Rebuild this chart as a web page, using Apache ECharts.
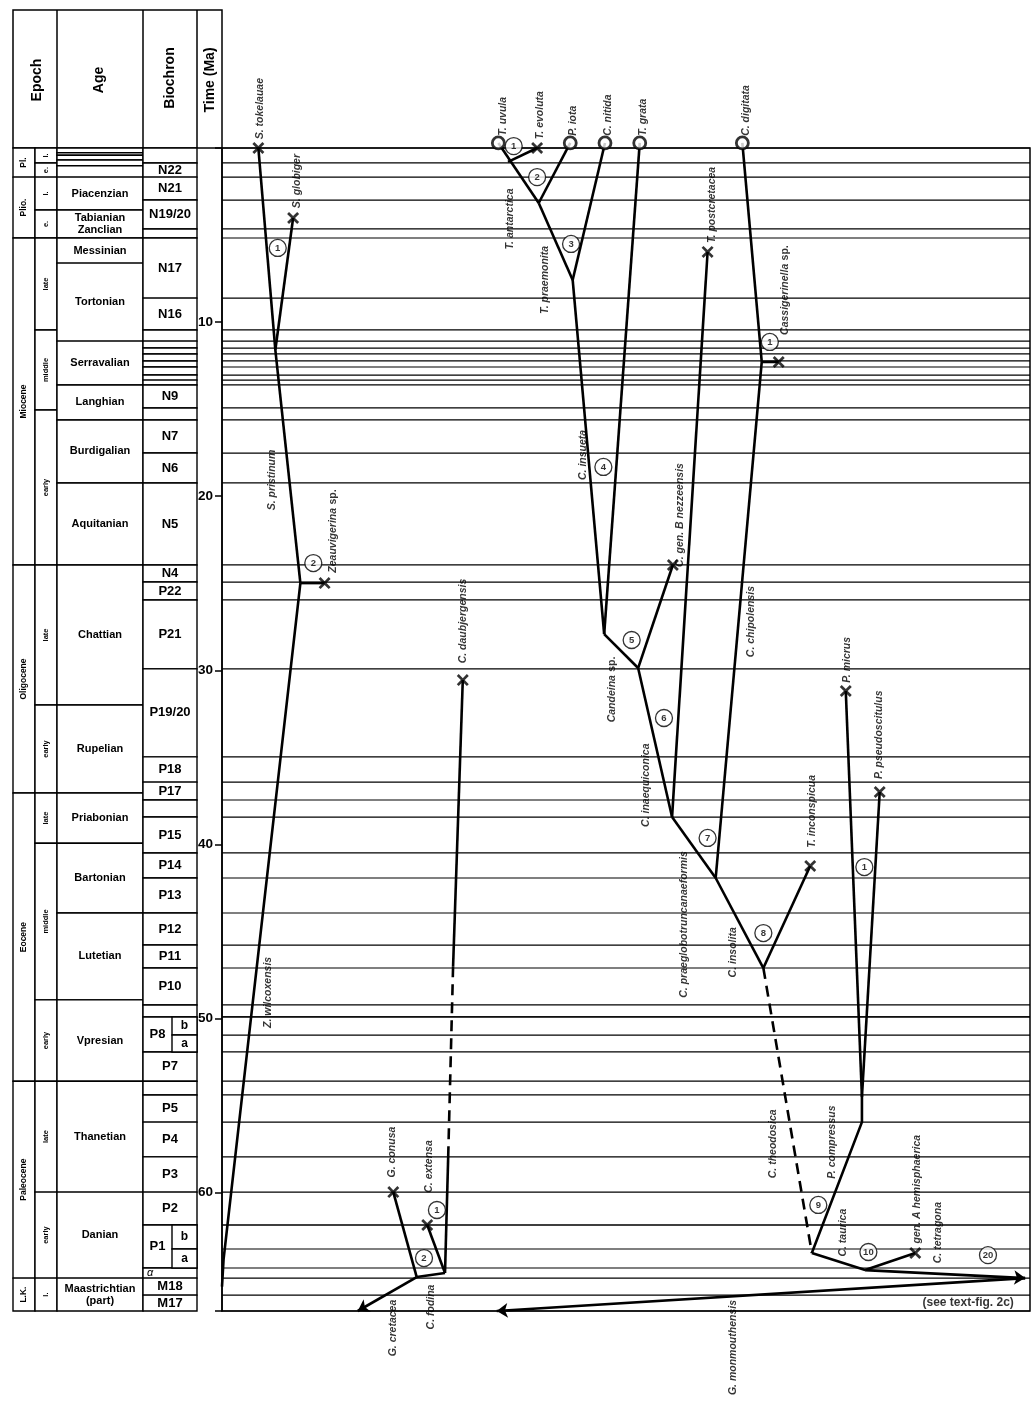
<!DOCTYPE html>
<html><head><meta charset="utf-8">
<script src="https://cdn.jsdelivr.net/npm/echarts@6/dist/echarts.min.js"></script>
<style>html,body{margin:0;padding:0;background:#fff}#c{width:1032px;height:1405px}</style>
</head><body><div id="c"></div>
<script>
// ================= DATA (time in Ma; lineage position in arbitrary units 0-100) =================
const epochs = [[0,1.67,'Pl.'],[1.67,5.17,'Plio.'],[5.17,23.95,'Miocene'],[23.95,37.05,'Oligocene'],[37.05,53.6,'Eocene'],[53.6,64.91,'Paleocene'],[64.91,66.8,'L.K.']];
const subEpochs = [[0,0.86,'l.'],[0.86,1.67,'e.'],[1.67,3.56,'l.'],[3.56,5.17,'e.'],[5.17,10.45,'late'],[10.45,15.05,'middle'],[15.05,23.95,'early'],[23.95,31.99,'late'],[31.99,37.05,'early'],[37.05,39.93,'late'],[39.93,48.93,'middle'],[48.93,53.6,'early'],[53.6,59.97,'late'],[59.97,64.91,'early'],[64.91,66.8,'l.']];
const ages = [[0,0.27,''],[0.27,0.42,''],[0.42,0.69,''],[0.69,1.02,''],[1.02,1.67,''],[1.67,3.56,'Piacenzian'],[3.56,5.17,'Tabianian\nZanclian'],[5.17,6.61,'Messinian'],[6.61,11.09,'Tortonian'],[11.09,13.61,'Serravalian'],[13.61,15.62,'Langhian'],[15.62,19.24,'Burdigalian'],[19.24,23.95,'Aquitanian'],[23.95,31.99,'Chattian'],[31.99,37.05,'Rupelian'],[37.05,39.93,'Priabonian'],[39.93,43.94,'Bartonian'],[43.94,48.93,'Lutetian'],[48.93,53.6,'Vpresian'],[53.6,59.97,'Thanetian'],[59.97,64.91,'Danian'],[64.91,66.8,'Maastrichtian\n(part)']];
const biochrons = [[0,0.86,''],[0.86,1.67,'N22'],[1.67,2.99,'N21'],[2.99,4.65,'N19/20'],[4.65,5.17,''],[5.17,8.62,'N17'],[8.62,10.45,'N16'],[10.45,11.09,''],[11.09,11.49,''],[11.49,11.83,''],[11.83,12.23,''],[12.23,12.58,''],[12.58,13.04,''],[13.04,13.33,''],[13.33,13.61,''],[13.61,14.93,'N9'],[14.93,15.62,''],[15.62,17.52,'N7'],[17.52,19.24,'N6'],[19.24,23.95,'N5'],[23.95,24.93,'N4'],[24.93,25.96,'P22'],[25.96,29.92,'P21'],[29.92,34.97,'P19/20'],[34.97,36.42,'P18'],[36.42,37.45,'P17'],[37.45,38.43,''],[38.43,40.49,'P15'],[40.49,41.93,'P14'],[41.93,43.94,'P13'],[43.94,45.78,'P12'],[45.78,47.10,'P11'],[47.10,49.22,'P10'],[49.22,49.91,''],[49.91,51.92,'P8'],[51.92,53.6,'P7'],[53.6,54.39,''],[54.39,55.95,'P5'],[55.95,57.95,'P4'],[57.95,59.97,'P3'],[59.97,61.86,'P2'],[61.86,64.33,'P1'],[64.33,64.91,'α'],[64.91,65.89,'M18'],[65.89,66.8,'M17']];
const biochronSubzones = [[49.91,50.95,'b'],[50.95,51.92,'a'],[61.86,63.24,'b'],[63.24,64.33,'a']];
const timeTicks = [10,20,30,40,50,60];

// lineages: [position, Ma] vertices
const solidBranches = [
  [[4.5,0],[6.6,11.6]],            // S. tokelauae
  [[8.8,4.02],[6.6,11.6]],         // S. globiger
  [[6.6,11.6],[9.7,24.99]],        // S. pristinum
  [[9.7,24.99],[12.7,24.99]],      // Zeauvigerina sp.
  [[9.7,24.99],[0.2,63.8],[0,65.4]], // Z. wilcoxensis
  [[29.8,30.56],[28.6,47.0]],      // C. daubjergensis
  [[28.0,57.84],[27.6,64.62]],
  [[25.4,61.86],[27.6,64.62]],     // C. extensa
  [[21.2,59.97],[24.1,64.85]],     // G. conusa
  [[24.1,64.85],[27.6,64.62]],     // C. fodina
  [[34.2,-0.29],[39.2,3.16]],      // T. uvula
  [[39.0,0],[35.4,0.80]],          // T. evoluta
  [[43.1,-0.29],[39.2,3.16]],      // P. iota
  [[39.2,3.16],[43.4,7.58]],       // T. praemonita
  [[47.4,-0.29],[43.4,7.58]],      // C. nitida
  [[43.4,7.58],[47.3,27.92]],      // C. insueta
  [[51.7,-0.29],[47.3,27.92]],     // T. grata
  [[47.3,27.92],[51.5,29.87]],     // Candeina sp.
  [[55.8,23.95],[51.5,29.87]],     // gen. B nezzeensis
  [[51.5,29.87],[55.7,38.43]],     // C. inaequiconica
  [[60.1,5.97],[55.7,38.43]],      // T. postcretacea
  [[55.7,38.43],[61.1,41.93]],     // C. praeglobotruncanaeformis
  [[64.4,-0.29],[66.8,12.29]],     // C. digitata
  [[66.8,12.29],[68.9,12.29]],     // Cassigerinella sp.
  [[66.8,12.29],[61.1,41.93]],     // C. chipolensis
  [[61.1,41.93],[67.0,47.1]],      // C. insolita
  [[72.8,41.24],[67.0,47.1]],      // T. inconspicua
  [[77.2,31.19],[79.2,54.51]],     // P. micrus
  [[81.4,36.99],[79.2,54.51]],     // P. pseudoscitulus
  [[79.2,54.51],[79.2,55.95],[73.0,63.47]], // P. compressus
  [[73.0,63.47],[79.6,64.45]],     // C. taurica
  [[79.6,64.45],[85.8,63.47]]      // gen. A hemisphaerica
];
const dashedBranches = [
  [[28.6,47.0],[28.0,57.84]],      // C. daubjergensis (inferred)
  [[67.0,47.1],[73.0,63.47]]       // C. theodosica (inferred)
];
const arrowBranches = [
  [[24.1,64.85],[16.8,66.8]],      // G. cretacea
  [[79.6,64.45],[99.4,64.91]],     // C. tetragona
  [[99.4,64.91],[34.0,66.8]]       // G. monmouthensis
];
const extinctions = [[4.5,0],[8.8,4.02],[12.7,24.99],[29.8,30.56],[21.2,59.97],[25.4,61.86],[39.0,0],[55.8,23.95],[60.1,5.97],[68.9,12.29],[72.8,41.24],[77.2,31.19],[81.4,36.99],[85.8,63.47]];
const extant = [[34.2,-0.29],[43.1,-0.29],[47.4,-0.29],[51.7,-0.29],[64.4,-0.29]];
const nodeNumbers = [[6.9,5.74,'1'],[11.3,23.84,'2'],[26.6,61.0,'1'],[25.0,63.76,'2'],[36.1,-0.11,'1'],[39.0,1.67,'2'],[43.2,5.51,'3'],[47.2,18.32,'4'],[50.7,28.26,'5'],[54.7,32.74,'6'],[60.1,39.63,'7'],[67.0,45.09,'8'],[73.8,60.71,'9'],[80.0,63.41,'10'],[94.8,63.59,'20'],[67.8,11.14,'1'],[79.5,41.3,'1']];
const topLabels = [[4.7,-0.5,'S. tokelauae'],[34.8,-0.7,'T. uvula'],[39.4,-0.5,'T. evoluta'],[43.4,-0.7,'P. iota'],[47.8,-0.7,'C. nitida'],[52.1,-0.7,'T. grata'],[64.9,-0.7,'C. digitata']];
const taxonLabels = [[9.3,1.9,'S. globiger'],[6.2,19.07,'S. pristinum'],[13.7,22.0,'Zeauvigerina sp.'],[5.7,48.5,'Z. wilcoxensis'],[29.8,27.17,'C. daubjergensis'],[21.0,57.67,'G. conusa'],[25.6,58.5,'C. extensa'],[21.2,67.78,'G. cretacea'],[25.9,66.57,'C. fodina'],[35.6,4.08,'T. antarctica'],[40.0,7.58,'T. praemonita'],[60.6,3.27,'T. postcretacea'],[69.7,8.16,'Cassigerinella sp.'],[44.7,17.63,'C. insueta'],[56.7,21.08,'C. gen. B nezzeensis'],[48.3,31.1,'Candeina sp.'],[65.5,27.2,'C. chipolensis'],[52.5,36.6,'C. inaequiconica'],[77.4,29.4,'P. micrus'],[81.3,33.7,'P. pseudoscitulus'],[73.0,38.1,'T. inconspicua'],[57.2,44.6,'C. praeglobotruncanaeformis'],[63.2,46.2,'C. insolita'],[68.2,57.2,'C. theodosica'],[75.5,57.1,'P. compressus'],[76.9,62.3,'C. taurica'],[86.0,59.8,'gen. A hemisphaerica'],[88.6,62.3,'C. tetragona'],[63.2,68.9,'G. monmouthensis']];
const noteLabels = [[98.0,66.3,'(see text-fig. 2c)']];

// ================= LAYOUT =================
const FONT = '"Liberation Sans", Arial, sans-serif';
const TOP = 148, BOTTOM = 1405 - 1311, TMAX = 66.8;
const COL = {epoch:[0,22], sub:[22,44], age:[44,130], bio:[130,184], bioSub:[159,184]};

const tableCells = [];
epochs.forEach(e => tableCells.push({x0:COL.epoch[0], x1:COL.epoch[1], t0:e[0], t1:e[1], label:e[2], kind:'epoch'}));
subEpochs.forEach(e => tableCells.push({x0:COL.sub[0], x1:COL.sub[1], t0:e[0], t1:e[1], label:e[2], kind:'sub'}));
ages.forEach(e => tableCells.push({x0:COL.age[0], x1:COL.age[1], t0:e[0], t1:e[1], label:e[2], kind:'age'}));
biochrons.forEach(e => {
  const hasSub = biochronSubzones.some(s => s[0] >= e[0] - 1e-6 && s[1] <= e[1] + 1e-6);
  tableCells.push({x0:COL.bio[0], x1:COL.bio[1], t0:e[0], t1:e[1], label:e[2], kind: e[2]==='α' ? 'alpha' : 'bio', lx: hasSub ? (COL.bio[0]+COL.bioSub[0])/2 : null});
});
biochronSubzones.forEach(e => tableCells.push({x0:COL.bioSub[0], x1:COL.bioSub[1], t0:e[0], t1:e[1], label:e[2], kind:'bsub'}));

const boundaryTimes = [];
biochrons.forEach(b => boundaryTimes.push(b[0]));
biochronSubzones.forEach(s => boundaryTimes.push(s[0]));
boundaryTimes.push(TMAX);

const fonts = {
  epoch: 'bold 8.5px ' + FONT, sub: 'bold 7.5px ' + FONT, age: 'bold 11px ' + FONT,
  bio: 'bold 13px ' + FONT, bsub: 'bold 12px ' + FONT, alpha: 'italic 11px ' + FONT
};

function tableRender(params, api) {
  const c = tableCells[params.dataIndex];
  const p0 = api.coord([c.x0, c.t0]), p1 = api.coord([c.x1, c.t1]);
  const children = [{type:'rect', shape:{x:p0[0], y:p0[1], width:p1[0]-p0[0], height:p1[1]-p0[1]},
    style:{fill:'#fff', stroke:'#000', lineWidth:1.4}}];
  if (c.label) {
    const rot = (c.kind === 'epoch' || c.kind === 'sub');
    let cx = (p0[0] + p1[0]) / 2, align = 'center';
    if (c.lx != null) cx = api.coord([c.lx, c.t0])[0];
    if (c.kind === 'alpha') { cx = p0[0] + 4; align = 'left'; }
    children.push({type:'text', x:cx, y:(p0[1]+p1[1])/2, rotation: rot ? Math.PI/2 : 0,
      style:{text:c.label, font:fonts[c.kind], fill:'#000', align:align, verticalAlign:'middle', lineHeight:12}});
  }
  return {type:'group', children};
}

function boundaryRender(params, api) {
  const t = boundaryTimes[params.dataIndex];
  const p0 = api.coord([0, t]), p1 = api.coord([100, t]);
  return {type:'line', shape:{x1:p0[0], y1:p0[1], x2:p1[0], y2:p1[1]}, style:{stroke:'#000', lineWidth:1.2}};
}

function italicRich(txt) {
  if (/ sp\.$/.test(txt)) return '{i|' + txt.replace(/ sp\.$/, '') + '} {r|sp.}';
  return '{i|' + txt + '}';
}
const rich = {
  i: {fontStyle:'italic', fontWeight:'bold', fontSize:10.5, fontFamily:FONT, color:'#000'},
  r: {fontStyle:'normal', fontWeight:'bold', fontSize:10.5, fontFamily:FONT, color:'#000'}
};
const crossPath = 'path://M0,1.6L1.6,0L5,3.4L8.4,0L10,1.6L6.6,5L10,8.4L8.4,10L5,6.6L1.6,10L0,8.4L3.4,5Z';

const yBase = {type:'value', min:0, max:TMAX, inverse:true};
const option = {
  animation:false,
  backgroundColor:'#fff',
  grid:[
    {left:13, top:TOP, width:209, bottom:BOTTOM},
    {left:222, top:TOP, width:808, bottom:BOTTOM, show:true, borderColor:'#000', borderWidth:1.5}
  ],
  xAxis:[
    {type:'value', gridIndex:0, min:0, max:209, show:false},
    {type:'value', gridIndex:1, min:0, max:100, show:false}
  ],
  yAxis:[
    Object.assign({gridIndex:0, show:false}, yBase),
    Object.assign({gridIndex:1, interval:10, position:'left',
      axisLine:{show:true, lineStyle:{color:'#000', width:1.5}},
      axisTick:{show:true, length:7, lineStyle:{color:'#000', width:1.5}},
      axisLabel:{margin:9, color:'#000', fontWeight:'bold', fontSize:13.5, fontFamily:FONT,
        formatter: v => timeTicks.indexOf(v) >= 0 ? String(v) : ''},
      splitLine:{show:false}}, yBase)
  ],
  graphic:[
    {type:'rect', shape:{x:13, y:10, width:209, height:138}, style:{fill:'#fff', stroke:'#000', lineWidth:1.5}},
    {type:'line', shape:{x1:57, y1:10, x2:57, y2:148}, style:{stroke:'#000', lineWidth:1.5}},
    {type:'line', shape:{x1:143, y1:10, x2:143, y2:148}, style:{stroke:'#000', lineWidth:1.5}},
    {type:'line', shape:{x1:197, y1:10, x2:197, y2:148}, style:{stroke:'#000', lineWidth:1.5}},
    {type:'text', x:37, y:80, rotation:Math.PI/2, style:{text:'Epoch', font:'bold 14px ' + FONT, fill:'#000', align:'center', verticalAlign:'middle'}},
    {type:'text', x:99, y:80, rotation:Math.PI/2, style:{text:'Age', font:'bold 14px ' + FONT, fill:'#000', align:'center', verticalAlign:'middle'}},
    {type:'text', x:170, y:78, rotation:Math.PI/2, style:{text:'Biochron', font:'bold 14px ' + FONT, fill:'#000', align:'center', verticalAlign:'middle'}},
    {type:'text', x:210, y:80, rotation:Math.PI/2, style:{text:'Time (Ma)', font:'bold 14px ' + FONT, fill:'#000', align:'center', verticalAlign:'middle'}}
  ],
  series:[
    {type:'custom', xAxisIndex:0, yAxisIndex:0, renderItem:tableRender, clip:false,
      data: tableCells.map(c => [c.x0, c.t0, c.x1, c.t1]), encode:{x:[0,2], y:[1,3]}, z:2},
    {type:'custom', xAxisIndex:1, yAxisIndex:1, renderItem:boundaryRender,
      data: boundaryTimes.map(t => [0, t]), encode:{x:0, y:1}, z:1},
    {type:'lines', coordinateSystem:'cartesian2d', xAxisIndex:1, yAxisIndex:1, polyline:true, clip:false,
      data: solidBranches.map(c => ({coords:c})), lineStyle:{color:'#000', width:2.6, opacity:1}, z:3},
    {type:'lines', coordinateSystem:'cartesian2d', xAxisIndex:1, yAxisIndex:1, polyline:true, clip:false,
      data: dashedBranches.map(c => ({coords:c})), lineStyle:{color:'#000', width:2.6, type:[11,7], opacity:1}, z:3},
    {type:'lines', coordinateSystem:'cartesian2d', xAxisIndex:1, yAxisIndex:1, clip:false,
      symbol:['none','arrow'], symbolSize:11,
      data: arrowBranches.map(c => ({coords:c})), lineStyle:{color:'#000', width:2.6, opacity:1}, z:3},
    {type:'scatter', xAxisIndex:1, yAxisIndex:1, clip:false, symbol:crossPath, symbolSize:12,
      itemStyle:{color:'#000'}, data:extinctions, z:4},
    {type:'scatter', xAxisIndex:1, yAxisIndex:1, clip:false, symbol:'circle', symbolSize:12,
      itemStyle:{color:'#fff', borderColor:'#000', borderWidth:2.8}, data:extant, z:4},
    {type:'scatter', xAxisIndex:1, yAxisIndex:1, clip:false, symbol:'circle', symbolSize:17,
      itemStyle:{color:'#fff', borderColor:'#000', borderWidth:1.3},
      data: nodeNumbers.map(n => [n[0], n[1]]),
      label:{show:true, position:'inside', color:'#000', fontWeight:'bold', fontFamily:FONT,
        fontSize:9.5, formatter: p => nodeNumbers[p.dataIndex][2]}, z:5},
    {type:'scatter', xAxisIndex:1, yAxisIndex:1, clip:false, symbolSize:1, itemStyle:{color:'rgba(0,0,0,0)'},
      data: taxonLabels.map(l => [l[0], l[1]]), silent:true,
      label:{show:true, position:'inside', rotate:90, align:'center', verticalAlign:'middle', rich:rich,
        formatter: p => italicRich(taxonLabels[p.dataIndex][2])}, z:6},
    {type:'scatter', xAxisIndex:1, yAxisIndex:1, clip:false, symbolSize:1, itemStyle:{color:'rgba(0,0,0,0)'},
      data: topLabels.map(l => [l[0], l[1]]), silent:true,
      label:{show:true, position:'inside', rotate:90, align:'left', verticalAlign:'middle', rich:rich,
        formatter: p => italicRich(topLabels[p.dataIndex][2])}, z:6},
    {type:'scatter', xAxisIndex:1, yAxisIndex:1, clip:false, symbolSize:1, itemStyle:{color:'rgba(0,0,0,0)'},
      data: noteLabels.map(l => [l[0], l[1]]), silent:true,
      label:{show:true, position:'inside', align:'right', verticalAlign:'middle', color:'#000',
        fontWeight:'bold', fontSize:12, fontFamily:FONT, formatter: p => noteLabels[p.dataIndex][2]}, z:6}
  ]
};
const chart = echarts.init(document.getElementById('c'), null, {renderer:'canvas'});
chart.setOption(option);
</script>
</body></html>
